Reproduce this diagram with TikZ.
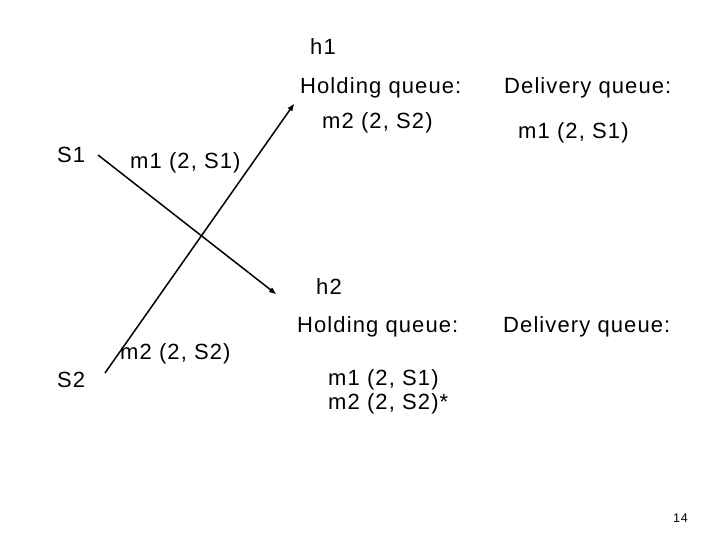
\documentclass[tikz,border=0pt]{standalone}
\usepackage{fontspec}
\setmainfont[LetterSpace=5]{Liberation Sans}
\usetikzlibrary{arrows.meta}
\tikzset{
  slidetext/.style={
    inner sep = 0pt,
    anchor = base west,
    font = \fontsize{22}{26}\selectfont
  },
  pagenum/.style={
    inner sep = 0pt,
    anchor = base west,
    font = \fontsize{12.5}{15}\selectfont
  },
  msg/.style={
    line width = 1.5pt,
    -{Triangle[length=7pt,width=5pt]}
  },
  every picture/.style = {
    x=1pt, y=-1pt
  }
}
\begin{document}
\begin{tikzpicture}
        \useasboundingbox (0,0) rectangle (720,540);
        % processes
        \node[slidetext] (s1) at (57,163) {S1};
        \node[slidetext] (s2) at (57,387) {S2};
        % h1 and its queues
        \node[slidetext] (h1) at (310,55) {h1};
        \node[slidetext] (hold1) at (300,94) {Holding queue:};
        \node[slidetext] (deliv1) at (504,94) {Delivery queue:};
        \node[slidetext] (hold1m) at (322,129) {m2 (2, S2)};
        \node[slidetext] (deliv1m) at (518,139) {m1 (2, S1)};
        % h2 and its queues
        \node[slidetext] (h2) at (316,294) {h2};
        \node[slidetext] (hold2) at (297,332) {Holding queue:};
        \node[slidetext] (deliv2) at (503,332) {Delivery queue:};
        \node[slidetext] (hold2a) at (328,385) {m1 (2, S1)};
        \node[slidetext] (hold2b) at (328,409) {m2 (2, S2)*};
        % messages
        \coordinate (m1from) at (98,155);
        \coordinate (m1to) at (276,294);
        \coordinate (m2from) at (105,373);
        \coordinate (m2to) at (294,104);
        \draw[msg] (m1from) -- (m1to);
        \draw[msg] (m2from) -- (m2to);
        \node[slidetext] (m1lbl) at (130,169) {m1 (2, S1)};
        \node[slidetext] (m2lbl) at (120,359) {m2 (2, S2)};
        \node[pagenum] (page) at (673,522) {14};
\end{tikzpicture}
\end{document}
